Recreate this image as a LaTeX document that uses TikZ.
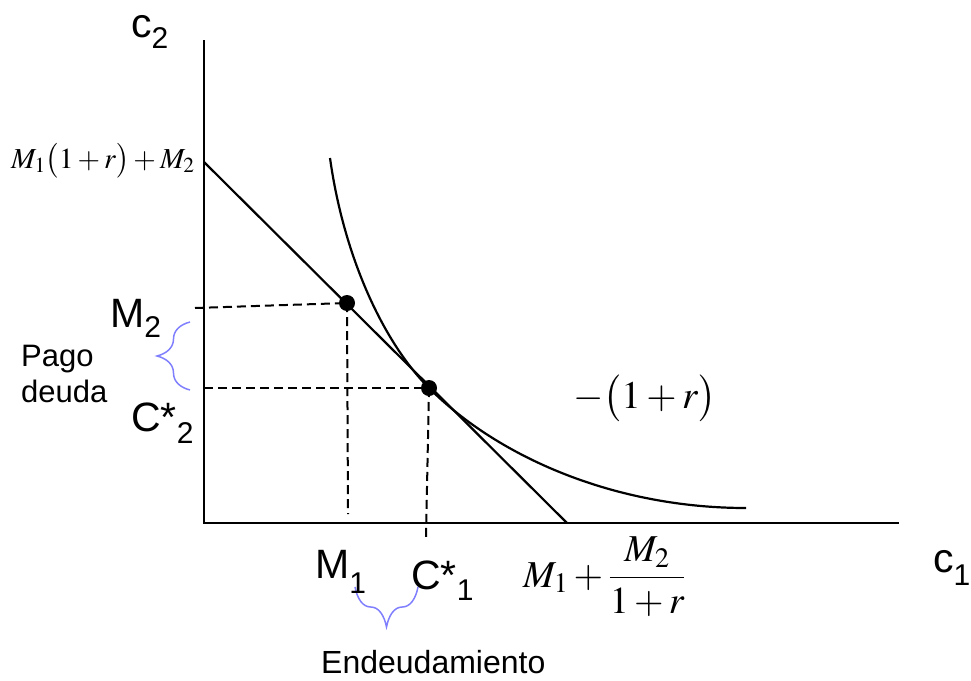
\documentclass[tikz,border=0pt]{standalone}
\usepackage{mathptmx}
\usepackage[no-math]{fontspec}
\setmainfont{Liberation Sans}
\usepackage{graphicx}
\usetikzlibrary{decorations.pathreplacing,positioning}

\definecolor{bracecol}{RGB}{128,128,255}
\newcommand\bigfont{\fontsize{41}{49}\selectfont}
\newcommand\smallfont{\fontsize{31}{36}\selectfont}
\newcommand\lowsub[2][11pt]{\raisebox{-#1}{\fontsize{30}{36}\selectfont #2}}

\begin{document}
\begin{tikzpicture}[x=1pt,y=-1pt,
  axis/.style={line width=2.2pt},
  curv/.style={line width=2.2pt},
  dashln/.style={line width=2pt,dash pattern=on 9pt off 5pt},
  dot/.style={circle,fill=black,inner sep=0pt,minimum size=16pt},
  lbl/.style={inner sep=0pt,font=\bigfont},
  txt/.style={inner sep=0pt,font=\smallfont,align=left},
  mth/.style={inner sep=0pt},
  brc/.style={decorate,decoration={brace,amplitude=#1},draw=bracecol,line width=1.5pt}]
\useasboundingbox (0,0) rectangle (971,680);
% ---------- axes ----------
\coordinate (O) at (204,523);
\coordinate (ytop) at (204,40);
\coordinate (xend) at (899,523);
\draw[axis] (ytop) -- (O) -- (xend);
% ---------- budget line and indifference curve ----------
\coordinate (A) at (204,162);
\coordinate (B) at (567,523);
\coordinate (M) at (347,303);
\coordinate (C) at (429,388);
\coordinate (ustart) at (330,158);
\coordinate (uend) at (746,508);
\draw[curv] (A) -- (B);
\draw[curv] (ustart) .. controls (344,258) and (384,343) .. (C)
  .. controls (499,458) and (616,508) .. (uend);
% ---------- dashed guides ----------
\coordinate (m2tick) at (195,308);
\coordinate (c2foot) at (204,388);
\coordinate (m1foot) at (348,514);
\coordinate (c1foot) at (426,537);
\draw[dashln] (m2tick) -- (M);
\draw[dashln] (c2foot) -- (C);
\draw[dashln] (M) -- (m1foot);
\draw[dashln] (C) -- (c1foot);
\node[dot] (Mdot) at (M) {};
\node[dot] (Cdot) at (C) {};
% ---------- braces ----------
\coordinate (pb1) at (190,390);
\coordinate (pb2) at (190,322);
\draw[brc=33pt] (pb1) -- (pb2);
\coordinate (eb1) at (418,587);
\coordinate (eb2) at (355,587);
\draw[brc=40pt] (eb1) -- (eb2);
% ---------- labels ----------
\node[lbl,anchor=base west] (c2lbl) at (131,37) {c\lowsub{2}};
\node[lbl,anchor=base west] (c1lbl) at (933,572) {c\lowsub[13pt]{1}};
\node[lbl,anchor=base west] (m2lbl) at (110,327) {M\lowsub[10pt]{2}};
\node[lbl,anchor=base west] (cs2lbl) at (131,431) {C*\lowsub[12pt]{2}};
\node[lbl,anchor=base west] (m1lbl) at (315,578) {M\lowsub[15pt]{1}};
\node[lbl,anchor=base west] (cs1lbl) at (411,589) {C*\lowsub[11pt]{1}};
\node[txt,anchor=base west] (pago) at (21,402) {Pago\\deuda};
\node[inner sep=0pt,font=\fontsize{32}{38}\selectfont,anchor=base west] (endeu) at (321,673) {Endeudamiento};
\node[mth,anchor=base west] (ylbl) at (11,168) {\fontsize{29}{35}\selectfont $M_1\bigl(1+r\bigr)+M_2$};
\node[mth,anchor=base west] (slope) at (573,408) {\fontsize{39}{46}\selectfont $-\bigl(1+r\bigr)$};
\node[mth,anchor=base west] (xlbl) at (523,587) {\fontsize{38}{44}\selectfont $M_1+{\displaystyle\frac{M_2}{1+r}}$};
\end{tikzpicture}
\end{document}
